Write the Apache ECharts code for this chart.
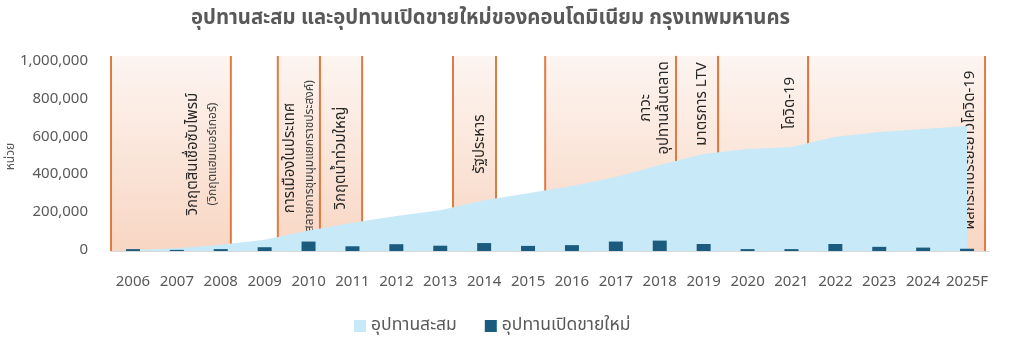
<!DOCTYPE html>
<html>
<head>
<meta charset="utf-8">
<script src="https://cdn.jsdelivr.net/npm/echarts@6/dist/echarts.min.js"></script>
<style>
html,body{margin:0;padding:0;background:#fff;}
#chart{width:1016px;height:344px;}
</style>
</head>
<body>
<div id="chart"></div>
<script>
// ---- data ----
const years = ['2006','2007','2008','2009','2010','2011','2012','2013','2014','2015','2016','2017','2018','2019','2020','2021','2022','2023','2024','2025F'];
const cumulativeSupply = [5000, 15000, 33000, 60000, 108000, 150000, 185000, 215000, 268000, 305000, 344000, 392000, 455000, 513000, 540000, 550000, 605000, 630000, 645000, 661000];
const newSupply = [10000, 6000, 10000, 20000, 50000, 25000, 36000, 28000, 42000, 27000, 31000, 50000, 55000, 37000, 10000, 10000, 37000, 22000, 18000, 12000];
const yTicks = [0, 200000, 400000, 600000, 800000, 1000000];

// event periods (x in year units, category centre = year)
const eventStart = [2005.5, 2009.30, 2010.26, 2013.29, 2015.39, 2018.37, 2019.33, 2021.38];
const eventEnd   = [2008.23, 2010.26, 2011.22, 2014.27, 2018.37, 2019.33, 2021.38, 2025.41];
const eventLabels = ['วิกฤตสินเชื่อซับไพรม์', 'การเมืองในประเทศ', 'วิกฤตน้ำท่วมใหญ่', 'รัฐประหาร', 'ภาวะ\nอุปทานล้นตลาด', 'มาตรการ LTV', 'โควิด-19', 'ผลกระทบระยะยาวโควิด-19'];
const eventNotes = ['(วิกฤตแฮมเบอร์เกอร์)', '(สลายการชุมนุมแยกราชประสงค์)', '', '', '', '', '', ''];

// ---- layout (annotation placement) ----
const bandTop = 1032000;
const labelAnchorX = [2008.00, 2010.21, 2010.97, 2014.13, 2018.32, 2019.19, 2021.19, 2025.29];
const labelCenterY = [513000, 492000, 492000, 566000, 757000, 778000, 783000, 534000];

const FONT = '"Noto Sans Thai", Tahoma, "Noto Sans", sans-serif';
const GREY = '#595959';

const bandData = eventStart.map((s, i) => [s, eventEnd[i], bandTop, i]);

const chart = echarts.init(document.getElementById('chart'), null, {renderer: 'canvas'});
chart.setOption({
  animation: false,
  backgroundColor: '#ffffff',
  textStyle: {fontFamily: FONT},
  title: {
    text: 'อุปทานสะสม และอุปทานเปิดขายใหม่ของคอนโดมิเนียม กรุงเทพมหานคร',
    left: 186, top: 5,
    textStyle: {fontFamily: FONT, fontSize: 20.3, fontWeight: 'bold', color: GREY}
  },
  legend: {
    bottom: 4, left: 349,
    itemWidth: 12, itemHeight: 12, itemGap: 28,
    icon: 'rect',
    textStyle: {fontFamily: FONT, fontSize: 17.5, color: GREY},
    data: ['อุปทานสะสม', 'อุปทานเปิดขายใหม่']
  },
  grid: {left: 111, right: 27, top: 62, bottom: 93, containLabel: false, outerBoundsMode: 'none'},
  xAxis: [{
    type: 'category', data: years, boundaryGap: true,
    axisTick: {show: false},
    axisLine: {lineStyle: {color: '#d9d9d9', width: 1}},
    axisLabel: {color: GREY, fontSize: 15, margin: 24, interval: 0, fontFamily: FONT}
  }, {
    type: 'value', show: false, min: 2005.5, max: 2025.5
  }],
  yAxis: [{
    type: 'value', min: 0, max: 1000000, interval: 200000,
    name: 'หน่วย', nameLocation: 'middle', nameGap: 93, nameMoveOverlap: false,
    nameTextStyle: {color: GREY, fontSize: 12, fontFamily: FONT},
    axisLine: {show: false}, axisTick: {show: false},
    splitLine: {show: false},
    axisLabel: {color: GREY, fontSize: 15, margin: 23, fontFamily: FONT,
      formatter: v => yTicks.includes(v) ? v.toLocaleString('en-US') : ''}
  }],
  series: [{
    name: 'bands', type: 'custom', xAxisIndex: 1, yAxisIndex: 0, z: 1,
    clip: false, silent: true,
    encode: {x: [0, 1], y: 2},
    data: bandData,
    renderItem: function (params, api) {
      const i = api.value(3);
      const p0 = api.coord([api.value(0), 0]);
      const p1 = api.coord([api.value(1), api.value(2)]);
      const x0 = p0[0], x1 = p1[0], yb = p0[1], yt = p1[1];
      const lx = api.coord([labelAnchorX[i], 0])[0];
      const ly = api.coord([2010, labelCenterY[i]])[1];
      const note = eventNotes[i];
      const children = [{
        type: 'rect',
        shape: {x: x0, y: yt, width: x1 - x0, height: yb - yt},
        style: {fill: new echarts.graphic.LinearGradient(0, 0, 0, 1, [
          {offset: 0, color: '#fdf5f1'}, {offset: 1, color: '#f8d6c3'}])}
      }, {
        type: 'line', shape: {x1: x0, y1: yt, x2: x0, y2: yb},
        style: {stroke: '#e07a40', lineWidth: 2}
      }, {
        type: 'line', shape: {x1: x1, y1: yt, x2: x1, y2: yb},
        style: {stroke: '#e07a40', lineWidth: 2}
      }];
      const mainX = note ? lx - 18 : lx;
      children.push({
        type: 'text', x: mainX, y: ly, rotation: Math.PI / 2, z2: 200,
        style: {
          text: eventLabels[i], align: 'center', verticalAlign: 'bottom',
          fill: '#262626', font: '15px ' + FONT, lineHeight: 18
        }
      });
      if (note) {
        children.push({
          type: 'text', x: lx, y: ly, rotation: Math.PI / 2, z2: 200,
          style: {
            text: note, align: 'center', verticalAlign: 'bottom',
            fill: '#404040', font: '12px ' + FONT, lineHeight: 14
          }
        });
      }
      return {type: 'group', children: children};
    }
  }, {
    name: 'อุปทานสะสม', type: 'line', z: 2,
    data: cumulativeSupply,
    symbol: 'none',
    lineStyle: {width: 0, color: '#c8eaf8'},
    itemStyle: {color: '#c8eaf8'},
    areaStyle: {color: '#c8eaf8', opacity: 1}
  }, {
    name: 'อุปทานเปิดขายใหม่', type: 'bar', z: 3,
    data: newSupply,
    barWidth: 14,
    itemStyle: {color: '#1b5c7e'}
  }]
});
</script>
</body>
</html>
